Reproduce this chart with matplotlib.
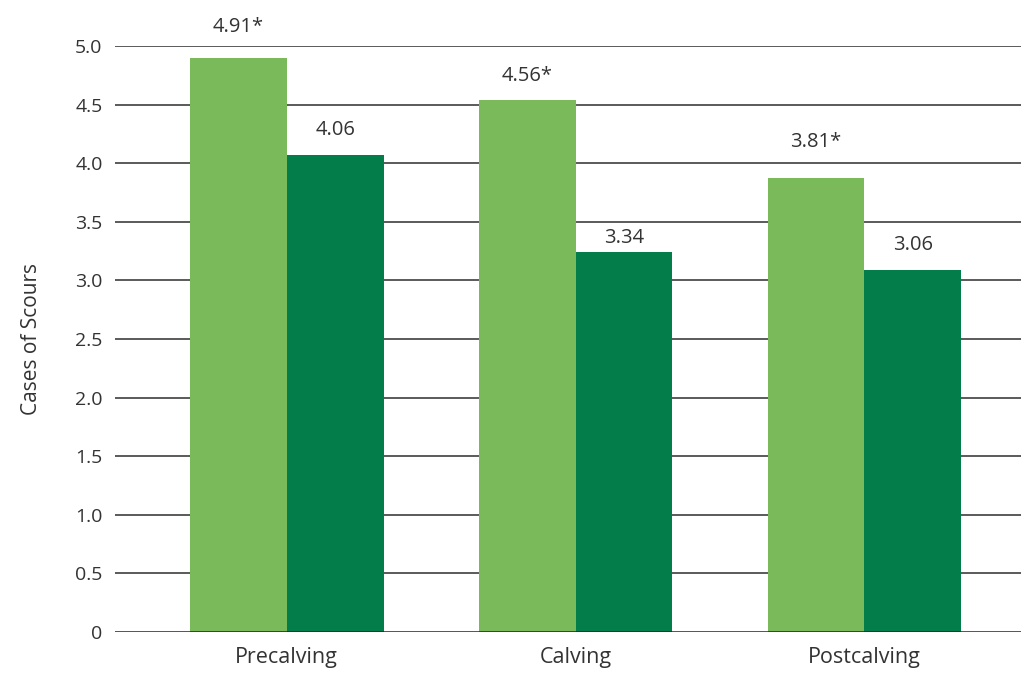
import matplotlib
matplotlib.use("Agg")
import matplotlib.pyplot as plt
import numpy as np

categories = ["Precalving", "Calving", "Postcalving"]
series_a = [4.90, 4.54, 3.87]          # light green bars (as drawn)
series_b = [4.07, 3.24, 3.09]          # dark green bars (as drawn)
labels_a = ["4.91*", "4.56*", "3.81*"]
labels_b = ["4.06", "3.34", "3.06"]
yticks = [0, 0.5, 1.0, 1.5, 2.0, 2.5, 3.0, 3.5, 4.0, 4.5, 5.0]
ytick_labels = ["0", "0.5", "1.0", "1.5", "2.0", "2.5", "3.0", "3.5", "4.0", "4.5", "5.0"]
y_title = "Cases of Scours"

# label offsets above bars (points)
offs_a = [15, 10, 19]
offs_b = [11, 3, 11]

plt.rcParams['font.family'] = ['Open Sans', 'DejaVu Sans']

fig = plt.figure(figsize=(10.21, 6.75), dpi=100)
ax = fig.add_axes([115/1021, 1 - 632/675, 1 - 115/1021, (632 - 46)/675])

x = np.arange(len(categories))
w = 0.335
light = "#7BBA5A"
dark = "#037E4A"

ax.set_axisbelow(True)
for t in yticks[1:]:
    ax.axhline(t, color="#5a5a5a", lw=1.4, zorder=0)
ax.axhline(0, color="#222222", lw=1.8, zorder=3)

ba = ax.bar(x - w/2, series_a, w, color=light, zorder=2)
bb = ax.bar(x + w/2, series_b, w, color=dark, zorder=2)

for rect, lab, o in zip(ba, labels_a, offs_a):
    ax.annotate(lab, (rect.get_x() + rect.get_width()/2, rect.get_height()),
                xytext=(0, o), textcoords="offset points", ha="center", va="bottom",
                fontsize=14.5, color="#333333", annotation_clip=False)
for rect, lab, o in zip(bb, labels_b, offs_b):
    ax.annotate(lab, (rect.get_x() + rect.get_width()/2, rect.get_height()),
                xytext=(0, o), textcoords="offset points", ha="center", va="bottom",
                fontsize=14.5, color="#333333", annotation_clip=False)

ax.set_xlim(-0.595, 2.543)
ax.set_ylim(0, 5.0)
ax.set_yticks(yticks)
ax.set_yticklabels(ytick_labels, fontsize=14, color="#333333")
ax.set_xticks(x)
ax.set_xticklabels(categories, fontsize=15.5, color="#333333")
ax.tick_params(axis="y", length=0, pad=9)
ax.tick_params(axis="x", length=0, pad=11)
for s in ax.spines.values():
    s.set_visible(False)
ax.set_ylabel(y_title, fontsize=15, color="#333333", labelpad=24)

fig.savefig("out.png", dpi=100)
